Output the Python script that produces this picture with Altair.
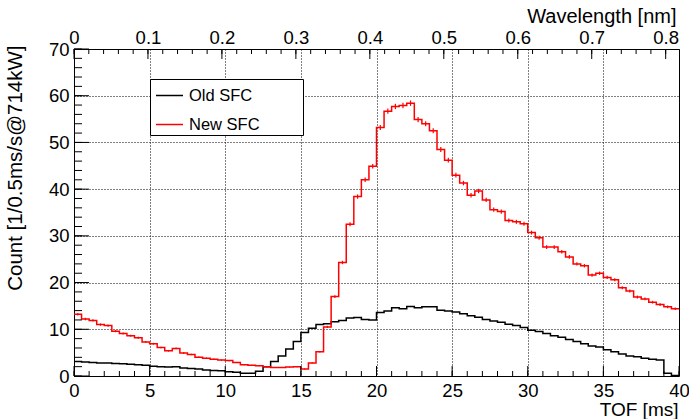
import altair as alt
import pandas as pd

# TOF histogram: 80 bins of 0.5 ms from 0 to 40 ms
BIN_WIDTH = 0.5
TOF_MAX = 40.0
LAMBDA_MAX = 0.818  # wavelength [nm] at TOF_MAX

old_sfc = [
    3.1, 3.0, 2.9, 2.8, 2.8, 2.7, 2.6, 2.5, 2.4, 2.3,
    2.1, 2.0, 1.9, 2.0, 1.7, 1.6, 1.5, 1.3, 1.2, 1.1,
    0.9, 0.8, 0.6, 0.6, 1.0, 2.0, 3.1, 4.3, 5.8, 7.4,
    9.3, 10.2, 11.0, 11.2, 11.6, 11.9, 12.4, 12.5, 12.1, 12.0,
    13.6, 13.9, 14.6, 14.4, 14.9, 14.6, 14.8, 14.8, 14.1, 13.9,
    13.7, 13.3, 12.9, 12.6, 12.1, 11.8, 11.5, 11.1, 10.8, 10.4,
    9.8, 9.5, 9.1, 8.6, 8.3, 7.8, 7.4, 6.9, 6.4, 6.2,
    5.6, 5.2, 4.7, 4.3, 4.1, 3.8, 3.6, 3.4, 0.6, 0.1,
]

new_sfc = [
    13.2, 12.2, 11.9, 11.0, 10.8, 9.6, 9.1, 8.6, 8.2, 7.3,
    6.9, 6.1, 5.4, 5.9, 4.9, 4.6, 4.0, 3.8, 3.6, 3.4,
    3.3, 2.9, 2.4, 2.3, 2.2, 2.0, 1.8, 1.8, 1.9, 2.0,
    1.5, 2.8, 5.2, 10.5, 17.0, 24.3, 32.5, 38.4, 42.0, 44.9,
    53.2, 56.7, 57.7, 57.9, 58.4, 54.9, 54.0, 52.5, 48.5, 46.2,
    43.0, 41.3, 38.7, 39.6, 37.7, 35.6, 35.2, 33.3, 33.0, 32.6,
    30.7, 29.6, 27.6, 27.6, 26.6, 25.5, 24.0, 23.6, 21.6, 22.0,
    21.1, 20.6, 18.9, 18.2, 16.9, 16.5, 15.8, 15.3, 14.8, 14.4,
]

series_names = ["Old SFC", "New SFC"]
series_colors = ["#000000", "#ff0000"]

tof_ticks_major = list(range(0, 41, 5))
tof_ticks_minor = list(range(0, 41, 1))
count_ticks_major = list(range(0, 71, 10))
count_ticks_minor = list(range(0, 71, 2))
lambda_ticks_major = [round(0.1 * i, 2) for i in range(9)]
lambda_ticks_minor = [round(0.02 * i, 2) for i in range(41)]

FONT = "Liberation Sans"
W, H = 605, 327


def step_frame(values, name):
    edges = [i * BIN_WIDTH for i in range(len(values))] + [TOF_MAX]
    counts = list(values) + [values[-1]]
    return pd.DataFrame({"tof": edges, "count": counts, "series": name})


old_df = step_frame(old_sfc, series_names[0])
new_df = step_frame(new_sfc, series_names[1])
err_df = pd.DataFrame({
    "tof": [i * BIN_WIDTH + BIN_WIDTH / 2 for i in range(len(new_sfc))],
    "count": [v - 0.075 * v ** 0.5 for v in new_sfc],
    "hi": [v + 0.075 * v ** 0.5 for v in new_sfc],
})

x_scale = alt.Scale(domain=[0, TOF_MAX], nice=False, zero=False)
y_scale = alt.Scale(domain=[0, 70], nice=False)
lam_scale = alt.Scale(domain=[0, LAMBDA_MAX], nice=False, zero=False)

bottom_axis = alt.Axis(
    values=tof_ticks_major, grid=True, gridDash=[1, 2], gridColor="#000",
    gridWidth=1, ticks=False, tickSize=0, domain=False,
    labelFont=FONT, labelFontSize=18.5, labelColor="#000",
    labelBaseline="alphabetic", labelPadding=20, labelFlush=False, labelOverlap=False,
    title="TOF [ms]", titleFont=FONT, titleFontSize=19, titleFontWeight="normal",
    titleColor="#000", titleAlign="right", titleBaseline="alphabetic",
    titleX=W - 1, titleY=39.5, titleAnchor="end",
)
left_axis = alt.Axis(
    values=count_ticks_major, grid=True, gridDash=[1, 2], gridColor="#000",
    gridWidth=1, ticks=False, tickSize=0, domain=False,
    labelFont=FONT, labelFontSize=18.5, labelColor="#000",
    labelBaseline="middle", labelPadding=5, labelFlush=False, labelOverlap=False,
    title="Count [1/0.5ms/s@714kW]", titleFont=FONT, titleFontSize=20.5,
    titleFontWeight="normal", titleColor="#000", titleAngle=270,
    titleAlign="right", titleBaseline="alphabetic", titleX=-53, titleY=-4,
)
top_axis = alt.Axis(
    orient="top", values=lambda_ticks_major, grid=False, ticks=False, tickSize=0,
    domain=False, labelFont=FONT, labelFontSize=18.5, labelColor="#000",
    labelBaseline="alphabetic", labelPadding=6, labelFlush=False, labelOverlap=False,
    labelExpr="datum.value == 0 ? '0' : format(datum.value, '.1f')",
    title="Wavelength [nm]", titleFont=FONT, titleFontSize=20,
    titleFontWeight="normal", titleColor="#000", titleAlign="right",
    titleBaseline="alphabetic", titleX=602, titleY=-27, titleAnchor="end",
)

# shared channel definitions, so every layer merges into the same axes
X_TOF = alt.X("tof:Q", scale=x_scale, axis=bottom_axis)
Y_COUNT = alt.Y("count:Q", scale=y_scale, axis=left_axis)
X_LAM = alt.X("lam:Q", scale=lam_scale, axis=top_axis)

# blank room to the right of the legend labels (a zero-width end keeps it from being trimmed)
LEGEND_PAD = "\u00a0" * 9 + "\u200b"

color = alt.Color(
    "series:N",
    scale=alt.Scale(domain=series_names, range=series_colors),
    legend=alt.Legend(
        title=None, orient="none", legendX=76, legendY=30, direction="vertical",
        symbolType="stroke", symbolSize=729, symbolStrokeWidth=1.5,
        symbolOffset=3, labelOffset=5, labelFont=FONT, labelFontSize=16.5,
        labelColor="#000", labelLimit=400,
        labelExpr="datum.label + '" + LEGEND_PAD + "'",
        padding=2, rowPadding=6, strokeColor="#000", fillColor="#ffffff",
        cornerRadius=0,
    ),
)

old_line = alt.Chart(old_df).mark_line(
    interpolate="step-after", strokeWidth=1.5
).encode(x=X_TOF, y=Y_COUNT, color=color)

new_line = alt.Chart(new_df).mark_line(
    interpolate="step-after", strokeWidth=1.5
).encode(x=X_TOF, y=Y_COUNT, color=color)

err_bars = alt.Chart(err_df).mark_rule(color="#ff0000", strokeWidth=1.2).encode(
    x=X_TOF, y=Y_COUNT, y2="hi:Q",
)


def x_ticks(values, length):
    df = pd.DataFrame({"tof": values})
    return alt.Chart(df).mark_rule(color="#000", strokeWidth=1).encode(
        x=X_TOF, y=alt.value(H), y2=alt.value(H - length),
    )


def y_ticks(values, length):
    df = pd.DataFrame({"count": values})
    return alt.Chart(df).mark_rule(color="#000", strokeWidth=1).encode(
        y=Y_COUNT, x=alt.value(0), x2=alt.value(length),
    )


def lam_ticks(values, length):
    df = pd.DataFrame({"lam": values})
    return alt.Chart(df).mark_rule(color="#000", strokeWidth=1).encode(
        x=X_LAM, y=alt.value(0), y2=alt.value(length),
    )


main = alt.layer(
    old_line, new_line, err_bars,
    x_ticks(tof_ticks_major, 10), x_ticks(tof_ticks_minor, 5),
    y_ticks(count_ticks_major, 15), y_ticks(count_ticks_minor, 8),
)
top = alt.layer(lam_ticks(lambda_ticks_major, 10), lam_ticks(lambda_ticks_minor, 5))

chart = alt.layer(main, top).resolve_scale(x="independent").properties(
    width=W, height=H,
    padding={"left": 74, "top": 49, "right": 10, "bottom": 43},
    autosize="none",
    background="#ffffff",
).configure_view(stroke="#000", strokeWidth=1)

chart.save("out.html", embed_options={"renderer": "svg", "actions": False})
